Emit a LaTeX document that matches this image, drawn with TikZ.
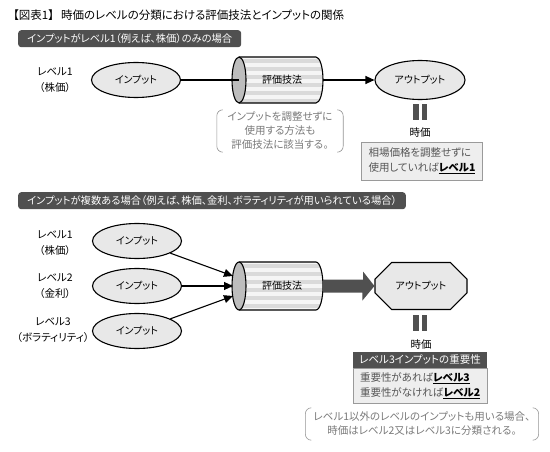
\documentclass[tikz,border=0pt]{standalone}
\usepackage{fontspec}
\setmainfont{Noto Sans CJK JP}[RawFeature=+palt]
\usetikzlibrary{shapes.geometric,shapes.misc,calc,arrows.meta}
\definecolor{hdrgray}{HTML}{505050}
\definecolor{elfill}{HTML}{E8E8E8}
\definecolor{capfill}{HTML}{BDBDBD}
\definecolor{stripeA}{HTML}{DADADA}
\definecolor{stripeB}{HTML}{F5F5F5}
\definecolor{notegray}{HTML}{7A7A7A}
\definecolor{boxfill}{HTML}{EEEEEE}
\definecolor{boxline}{HTML}{9A9A9A}
\definecolor{boxtext}{HTML}{555555}
\tikzset{
  hdr/.style={fill=hdrgray, text=white, rounded corners=3pt, inner xsep=9pt, inner ysep=0pt, minimum height=17pt, anchor=north west, font=\fontsize{10.3}{12}\selectfont},
  lbl/.style={align=center, font=\fontsize{10.5}{16}\selectfont},
  inel/.style={ellipse, draw, line width=1.1pt, fill=elfill, minimum width=89pt, minimum height=35pt, inner sep=0pt, font=\fontsize{10}{12}\selectfont},
  conn/.style={line width=1.1pt},
  arr/.style={line width=1.1pt, -{Triangle[length=9pt,width=8pt]}},
  notetxt/.style={align=center, text=notegray, font=\fontsize{10.5}{14}\selectfont, inner xsep=8pt, inner ysep=2pt},
  brk/.style={draw=notegray!80, line width=0.6pt, rounded corners=6pt},
  bar/.style={fill=hdrgray},
  jika/.style={font=\fontsize{10.5}{12}\selectfont},
  ibox/.style={fill=boxfill, draw=boxline, line width=0.6pt, align=left, text=boxtext, font=\fontsize{10.5}{15}\selectfont, inner xsep=7pt},
}
\newcommand\ulbold[1]{\textcolor{black}{\bfseries\underline{#1}}}
\newcommand\mycylinder[4]{% name, left x, center y, half height
  \pgfmathsetmacro\cL{#2}
  \pgfmathsetmacro\cC{#2+7}
  \pgfmathsetmacro\cR{#2+84}
  \pgfmathsetmacro\cT{#3-#4}
  \pgfmathsetmacro\cB{#3+#4}
  \begin{scope}
    \clip (\cC,\cT) -- (\cR,\cT) arc[start angle=90, end angle=-90, x radius=7pt, y radius=#4 pt] -- (\cC,\cB) -- cycle;
    \fill[stripeB] (\cL,\cT) rectangle (\cR+8,\cB);
    \foreach \k in {0,...,7} {\fill[stripeA] (\cL,\cT+2+\k*8) rectangle (\cR+8,\cT+6+\k*8);}
  \end{scope}
  \draw[line width=1.1pt] (\cC,\cT) -- (\cR,\cT) arc[start angle=90, end angle=-90, x radius=7pt, y radius=#4 pt] -- (\cC,\cB);
  \draw[line width=1.1pt, fill=capfill] (\cC,#3) ellipse[x radius=7pt, y radius=#4 pt];
  \coordinate (#1cap) at (\cC,#3);
  \coordinate (#1r) at (\cR+7,#3);
}
\begin{document}
\begin{tikzpicture}[x=1pt,y=-1pt]
\useasboundingbox (0,0) rectangle (550,452);
\fill[white] (0,0) rectangle (550,452);

\node[anchor=west, font=\fontsize{11.5}{13}\selectfont, inner sep=0pt] (title) at (13,15) {【図表1】\hspace{7pt}時価のレベルの分類における評価技法とインプットの関係};

% ---------- section 1
\node[hdr] (hdr1) at (18,30) {インプットがレベル1（例えば、株価）のみの場合};
\node[lbl] (lab1) at (55,80) {レベル1\\（株価）};
\node[inel] (in1) at (136,80) {インプット};
\mycylinder{cyl1}{232}{80}{23}
\node[font=\fontsize{10}{12}\selectfont] (tech1) at (282,80) {評価技法};
\node[inel, minimum width=90pt, minimum height=39pt] (out1) at (420,80) {アウトプット};
\draw[conn] (in1) -- (cyl1cap);
\draw[arr] (cyl1r) -- (out1);
\fill[bar] (413,104) rectangle (418.5,120);
\fill[bar] (421.5,104) rectangle (427,120);
\coordinate (eq1) at (420,112);
\node[jika] (jika1) at (420,133) {時価};
\node[ibox, minimum width=118pt, minimum height=38pt] (box1) at (422,161) {相場価格を調整せずに\\使用していれば\ulbold{レベル1}};
\node[notetxt, minimum width=126pt, minimum height=42pt] (note1) at (280,131) {インプットを調整せずに\\使用する方法も\\評価技法に該当する。};
\draw[brk] ($(note1.north west)+(6,0)$) -- (note1.north west) -- (note1.south west) -- ($(note1.south west)+(6,0)$);
\draw[brk] ($(note1.north east)+(-6,0)$) -- (note1.north east) -- (note1.south east) -- ($(note1.south east)+(-6,0)$);

% ---------- section 2
\node[hdr] (hdr2) at (18,192) {インプットが複数ある場合（例えば、株価、金利、ボラティリティが用いられている場合）};
\node[lbl] (lab2a) at (55,243) {レベル1\\（株価）};
\node[lbl] (lab2b) at (55,286) {レベル2\\（金利）};
\node[lbl] (lab2c) at (53,330) {レベル3\\（ボラティリティ）};
\node[inel] (in2a) at (137,241) {インプット};
\node[inel] (in2b) at (137,286) {インプット};
\node[inel] (in2c) at (137,331) {インプット};
\mycylinder{cyl2}{232}{286}{24}
\node[font=\fontsize{10}{12}\selectfont] (tech2) at (282,286) {評価技法};
\coordinate (t1) at (233,276);
\coordinate (t2) at (233,286);
\coordinate (t3) at (233,296);
\draw[arr] (in2a) -- (t1);
\draw[arr] (in2b) -- (t2);
\draw[arr] (in2c) -- (t3);
\node[chamfered rectangle, chamfered rectangle xsep=12pt, chamfered rectangle ysep=12pt, draw, line width=1.1pt, fill=elfill, minimum width=92pt, minimum height=47pt, inner sep=0pt, font=\fontsize{10}{12}\selectfont] (out2) at (421,286) {アウトプット};
\fill[hdrgray] (cyl2r) ++(0,-6.5) -- ++(40,0) -- ++(0,-8) -- (out2.west) -- ++(-12,14.5) -- ++(0,-8) -- ++(-39.5,0) -- cycle;
\fill[bar] (413,315) rectangle (418.5,331);
\fill[bar] (421.5,315) rectangle (427,331);
\coordinate (eq2) at (420,323);
\node[jika] (jika2) at (421,344) {時価};
\node[fill=hdrgray, text=white, minimum width=134pt, minimum height=16pt, inner sep=0pt, font=\fontsize{10.5}{12}\selectfont] (imp) at (420,360) {レベル3インプットの重要性};
\node[ibox, minimum width=134pt, minimum height=35pt, anchor=north, text width=120pt] (box2) at (imp.south) {重要性があれば\ulbold{レベル3}\\重要性がなければ\ulbold{レベル2}};
\node[notetxt, minimum width=230pt, minimum height=32pt] (note2) at (422,424) {レベル1以外のレベルのインプットも用いる場合、\\時価はレベル2又はレベル3に分類される。};
\draw[brk] ($(note2.north west)+(6,0)$) -- (note2.north west) -- (note2.south west) -- ($(note2.south west)+(6,0)$);
\draw[brk] ($(note2.north east)+(-6,0)$) -- (note2.north east) -- (note2.south east) -- ($(note2.south east)+(-6,0)$);
\end{tikzpicture}
\end{document}
